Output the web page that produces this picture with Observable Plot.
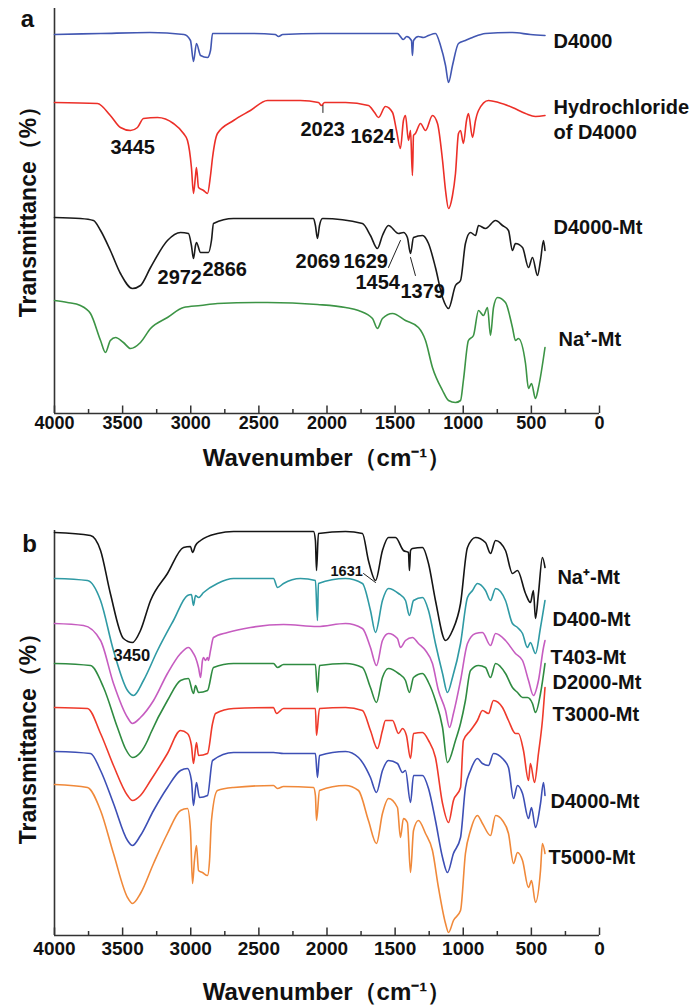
<!DOCTYPE html>
<html><head><meta charset="utf-8">
<script src="https://cdn.jsdelivr.net/npm/d3@7"></script>
<script src="https://cdn.jsdelivr.net/npm/@observablehq/plot@0.6"></script>
<style>
body{margin:0;background:#fff}
#chart svg{display:block}
</style>
</head><body><div id="chart"></div>
<script>
// ---------- tick labels ----------
const majorTicks = [4000, 3500, 3000, 2500, 2000, 1500, 1000, 500, 0];
const minorTicks = [3750, 3250, 2750, 2250, 1750, 1250, 750, 250];

// ---------- panel a spectra: [wavenumber (cm-1), transmittance (a.u.)] ----------
const a_D4000 = [[4000,379],[3660,380],[3300,381],[3050,379],[3002,373],[2980,352],[2958,370],[2928,358],[2877,356],[2855,363],[2840,380],[2560,380],[2380,379],[2356,377],[2325,379],[2048,380],[1483,380],[1440,374],[1415,377],[1380,373],[1373,358],[1365,373],[1330,377],[1292,376],[1255,378],[1204,380],[1167,368],[1130,348],[1108,331],[1079,348],[1035,370],[984,373],[932,376],[837,380],[639,381],[507,379],[400,378]];
const a_HCl = [[4000,311],[3685,310],[3590,298],[3516,286],[3442,283],[3391,286],[3347,295],[3244,296],[3127,290],[3053,280],[3024,273],[2995,246],[2980,220],[2965,238],[2958,246],[2943,226],[2906,223],[2877,220],[2855,238],[2840,256],[2804,280],[2686,293],[2562,303],[2437,313],[2195,313],[2063,311],[2040,308],[2018,311],[1864,311],[1696,308],[1651,301],[1622,296],[1571,307],[1519,301],[1490,283],[1461,265],[1439,293],[1424,298],[1402,273],[1387,283],[1373,238],[1365,278],[1351,280],[1314,290],[1277,283],[1226,298],[1189,290],[1152,253],[1130,223],[1108,205],[1079,218],[1057,240],[1035,280],[1020,283],[999,270],[976,293],[962,300],[932,276],[910,293],[888,303],[815,313],[741,311],[639,306],[543,300],[470,297],[400,298]];
const a_D4000Mt = [[4000,196],[3810,195],[3714,193],[3662,183],[3590,163],[3516,140],[3428,125],[3369,128],[3295,146],[3171,173],[3075,181],[3017,180],[2995,168],[2980,155],[2965,168],[2958,171],[2928,161],[2870,161],[2848,173],[2833,190],[2686,195],[2099,195],[2085,188],[2070,175],[2055,188],[2033,195],[1740,190],[1681,178],[1630,165],[1593,178],[1549,188],[1475,180],[1439,181],[1410,176],[1387,160],[1365,176],[1299,178],[1255,170],[1204,146],[1152,116],[1108,105],[1057,128],[1020,133],[984,170],[947,181],[910,178],[888,188],[837,185],[763,193],[712,188],[668,183],[639,163],[617,170],[565,166],[521,146],[492,156],[455,138],[433,153],[411,173],[400,163]];
const a_NaMt = [[4000,113],[3905,111],[3810,108],[3736,100],[3662,73],[3626,61],[3590,73],[3552,76],[3494,71],[3442,65],[3369,71],[3295,85],[3171,96],[3053,106],[2928,108],[2804,110],[2437,111],[2070,109],[1864,106],[1769,103],[1666,95],[1630,85],[1593,95],[1519,100],[1424,93],[1329,86],[1277,73],[1226,46],[1152,23],[1108,13],[1057,11],[1020,13],[999,33],[962,73],[925,78],[888,103],[852,98],[822,106],[800,78],[778,106],[749,116],[690,111],[639,86],[617,73],[595,75],[543,50],[521,25],[499,30],[470,15],[448,26],[400,66]];

// ---------- panel b spectra ----------
const b_NaMt = [[4000,403],[3736,400],[3662,385],[3590,342],[3494,297],[3428,293],[3369,305],[3295,335],[3171,362],[3053,388],[3002,389],[2987,383],[2965,390],[2928,395],[2804,402],[2686,404],[2099,404],[2085,395],[2077,365],[2063,402],[1864,404],[1740,402],[1696,375],[1644,355],[1593,385],[1549,398],[1497,398],[1439,385],[1402,383],[1395,365],[1387,385],[1373,387],[1299,388],[1255,372],[1204,335],[1130,295],[1079,305],[1020,332],[969,388],[910,398],[837,393],[800,382],[763,395],[690,385],[639,362],[602,365],[543,342],[507,333],[485,345],[470,317],[448,342],[419,378],[400,368]];
const b_D400Mt = [[4000,357],[3758,355],[3662,335],[3567,285],[3464,245],[3420,240],[3347,255],[3244,285],[3127,315],[3024,340],[2995,341],[2980,330],[2965,340],[2943,338],[2906,343],[2804,352],[2686,357],[2393,357],[2363,348],[2319,352],[2195,357],[2085,355],[2070,315],[2063,352],[1864,357],[1740,352],[1681,325],[1644,303],[1593,335],[1549,347],[1475,342],[1424,335],[1395,320],[1365,335],[1299,338],[1255,325],[1204,292],[1152,262],[1116,243],[1079,258],[1020,292],[969,338],[932,345],[896,352],[837,345],[800,335],[763,347],[690,335],[639,312],[602,308],[565,302],[529,288],[507,293],[470,282],[433,308],[400,335]];
const b_T403Mt = [[4000,312],[3787,310],[3662,295],[3567,252],[3464,218],[3428,212],[3369,218],[3273,235],[3171,262],[3075,282],[3017,288],[2980,282],[2965,278],[2943,268],[2928,258],[2914,275],[2906,278],[2892,275],[2877,278],[2870,275],[2855,285],[2833,298],[2730,303],[2562,308],[2319,311],[2070,309],[1864,312],[1740,307],[1681,288],[1637,270],[1593,295],[1549,302],[1483,297],[1461,288],[1424,295],[1373,298],[1329,292],[1277,285],[1226,272],[1182,245],[1130,225],[1101,208],[1072,222],[1020,255],[969,292],[910,302],[859,303],[800,290],[763,302],[690,295],[617,282],[565,275],[521,255],[485,240],[448,255],[411,288],[400,295]];
const b_D2000Mt = [[4000,272],[3736,270],[3640,248],[3538,208],[3480,187],[3428,178],[3369,183],[3317,195],[3295,202],[3171,235],[3075,255],[3017,257],[2980,242],[2965,250],[2943,243],[2877,245],[2833,268],[2686,272],[2393,272],[2363,268],[2319,271],[2085,271],[2070,243],[2055,270],[1864,272],[1740,268],[1681,248],[1637,233],[1593,258],[1549,267],[1475,262],[1424,255],[1395,243],[1365,258],[1299,262],[1255,253],[1204,235],[1152,208],[1116,173],[1057,195],[1020,212],[984,235],[947,265],[888,270],[837,268],[800,258],[763,272],[690,262],[639,248],[602,243],[565,238],[529,238],[492,232],[470,223],[433,242],[400,272]];
const b_T3000Mt = [[4000,228],[3758,227],[3662,202],[3567,170],[3464,140],[3428,135],[3369,140],[3295,155],[3171,182],[3075,205],[3024,202],[2995,190],[2980,172],[2958,193],[2943,180],[2877,182],[2840,212],[2818,222],[2686,227],[2393,228],[2371,222],[2319,227],[2085,227],[2077,200],[2055,227],[1864,228],[1740,225],[1681,205],[1630,187],[1593,205],[1571,215],[1519,215],[1475,202],[1446,207],[1417,200],[1387,177],[1365,202],[1299,203],[1255,195],[1204,178],[1152,132],[1108,113],[1072,135],[1020,148],[999,195],[947,205],[896,215],[859,225],[815,222],[778,235],[712,228],[668,215],[617,202],[595,202],[558,185],[521,155],[507,172],[477,153],[448,182],[419,215],[400,248]];
const b_D4000Mt = [[4000,184],[3736,182],[3662,165],[3567,132],[3464,95],[3428,90],[3369,100],[3273,125],[3171,148],[3075,165],[3024,167],[2995,155],[2980,130],[2958,153],[2936,138],[2877,140],[2840,175],[2686,183],[2393,183],[2319,182],[2085,182],[2070,158],[2055,180],[1864,184],[1769,178],[1681,158],[1637,143],[1593,165],[1549,175],[1483,172],[1446,163],[1424,165],[1387,133],[1365,160],[1299,160],[1255,147],[1204,115],[1152,78],[1116,63],[1072,82],[1020,98],[984,148],[947,165],[896,177],[859,172],[815,170],[778,182],[712,177],[668,168],[631,137],[602,150],[565,142],[521,117],[499,128],[470,108],[433,132],[411,153],[400,140]];
const b_T5000Mt = [[4000,151],[3758,148],[3662,125],[3567,82],[3464,38],[3428,32],[3369,42],[3273,72],[3171,102],[3075,125],[3024,127],[3002,105],[2987,52],[2973,75],[2958,90],[2943,65],[2914,63],[2877,60],[2862,75],[2848,115],[2804,145],[2686,148],[2393,150],[2363,147],[2319,149],[2099,148],[2085,140],[2077,115],[2055,145],[1864,150],[1769,145],[1696,115],[1637,92],[1593,122],[1549,137],[1483,128],[1461,98],[1439,117],[1410,113],[1387,63],[1365,105],[1329,115],[1277,102],[1226,85],[1182,48],[1130,12],[1108,3],[1072,15],[1020,25],[984,82],[947,105],[896,120],[859,112],[800,100],[763,120],[712,115],[668,102],[631,72],[602,83],[565,75],[521,48],[499,55],[470,33],[433,65],[419,92],[400,82]];

// ---------- series names and label anchors [wavenumber, level] ----------
const a_names = ["D4000", "Hydrochloride", "of D4000", "D4000-Mt", "Na⁺-Mt"];
const a_nameAt = [[338,372],[338,306],[338,281],[338,186],[301,74]];
const a_peaks = ["3445","2023","1624","2972","2866","2069","1629","1454","1379"];
const a_peakAt = [[3589,266],[2195,284],[1828,277],[3244,136],[2914,144],[2231,152],[1879,152],[1791,131],[1461,122]];
const a_leaders = [[[2030,308],[2030,301]],[[1549,146],[1461,173]],[[1387,156],[1351,138]]];

const b_names = ["Na⁺-Mt","D400-Mt","T403-Mt","D2000-Mt","T3000-Mt","D4000-Mt","T5000-Mt"];
const b_nameAt = [[309,358],[345,316],[360,278],[345,253],[345,221],[360,134],[374,78]];
const b_peaks = ["3450","1631"];
const b_peakAt = [[3567,280],[1974,364]];
const b_leaders = [[[1732,362],[1644,353]]];

const FONT = "'Liberation Sans', Arial, Helvetica, sans-serif";

function panel(cfg) {
  const marks = [
    Plot.ruleX([4000], {stroke: "#333", strokeWidth: 1.6}),
    Plot.ruleY([0], {stroke: "#333", strokeWidth: 1.6}),
    Plot.ruleX(majorTicks, {y1: 0, y2: 7.5, stroke: "#333", strokeWidth: 1.5}),
    Plot.ruleX(minorTicks, {y1: 0, y2: 4, stroke: "#333", strokeWidth: 1.5}),
    Plot.axisX({ticks: majorTicks, tickSize: 0, tickPadding: cfg.tickPadding, tickFormat: d => String(d), fontSize: cfg.tickFont, fontWeight: "bold", fill: "#111", label: null}),
    ...cfg.series.map(([data, color]) => Plot.line(data, {x: d => d[0], y: d => d[1], stroke: color, strokeWidth: 1.6, strokeLinejoin: "round", curve: "monotone-x"})),
    ...cfg.leaders.map(seg => Plot.line(seg, {x: d => d[0], y: d => d[1], stroke: "#222", strokeWidth: 1})),
    Plot.text(cfg.names, {x: (d, i) => cfg.nameAt[i][0], y: (d, i) => cfg.nameAt[i][1], text: d => d, textAnchor: "start", lineAnchor: "middle", fontSize: 20, fontWeight: "bold", fill: "#111"}),
    ...cfg.peaks.map((p, i) => Plot.text([p], {x: () => cfg.peakAt[i][0], y: () => cfg.peakAt[i][1], text: d => d, textAnchor: "start", lineAnchor: "middle", fontSize: cfg.peakFont[i], fontWeight: "bold", fill: "#111"})),
    Plot.text(["Wavenumber（cm⁻¹）"], {frameAnchor: "bottom", textAnchor: "middle", lineAnchor: "middle", dy: cfg.titleDy, fontSize: 24, fontWeight: "bold", fill: "#111"}),
    Plot.text(["Transmittance（%）"], {frameAnchor: "left", textAnchor: "middle", lineAnchor: "middle", rotate: -90, dx: -26, dy: cfg.yTitleDy, fontSize: 23, fontWeight: "bold", fill: "#111"}),
    Plot.text([cfg.letter], {frameAnchor: "top-left", textAnchor: "middle", lineAnchor: "middle", dx: cfg.letterDx, dy: cfg.letterDy, fontSize: 24, fontWeight: "bold", fill: "#111"})
  ];
  return Plot.plot({
    width: 690, height: cfg.height,
    marginLeft: 54, marginRight: 91, marginTop: cfg.marginTop, marginBottom: cfg.marginBottom,
    style: {fontFamily: FONT, background: "#fff", overflow: "visible"},
    x: {domain: [4000, 0], axis: null},
    y: {domain: [0, 405], axis: null},
    marks
  });
}

const svgA = panel({
  height: 480, marginTop: 8, marginBottom: 67, tickPadding: 3, tickFont: 18, titleDy: 45, yTitleDy: -5,
  letter: "a", letterDx: -27, letterDy: 11,
  series: [[a_D4000, "#4257b2"], [a_HCl, "#ec2f28"], [a_D4000Mt, "#1a1a1a"], [a_NaMt, "#3c9445"]],
  names: a_names, nameAt: a_nameAt, peaks: a_peaks, peakAt: a_peakAt, peakFont: a_peaks.map(() => 20), leaders: a_leaders
});
const svgB = panel({
  height: 526, marginTop: 50, marginBottom: 71, tickPadding: 6, tickFont: 19, titleDy: 57, yTitleDy: 0,
  letter: "b", letterDx: -25, letterDy: 14,
  series: [[b_NaMt, "#151515"], [b_D400Mt, "#2f9aa4"], [b_T403Mt, "#c65cc0"], [b_D2000Mt, "#2f8b41"], [b_T3000Mt, "#ef3a2b"], [b_D4000Mt, "#3d4fb5"], [b_T5000Mt, "#f0893a"]],
  names: b_names, nameAt: b_nameAt, peaks: b_peaks, peakAt: b_peakAt, peakFont: [16.5, 14.5], leaders: b_leaders
});
document.getElementById("chart").append(svgA, svgB);
</script>
</body></html>
